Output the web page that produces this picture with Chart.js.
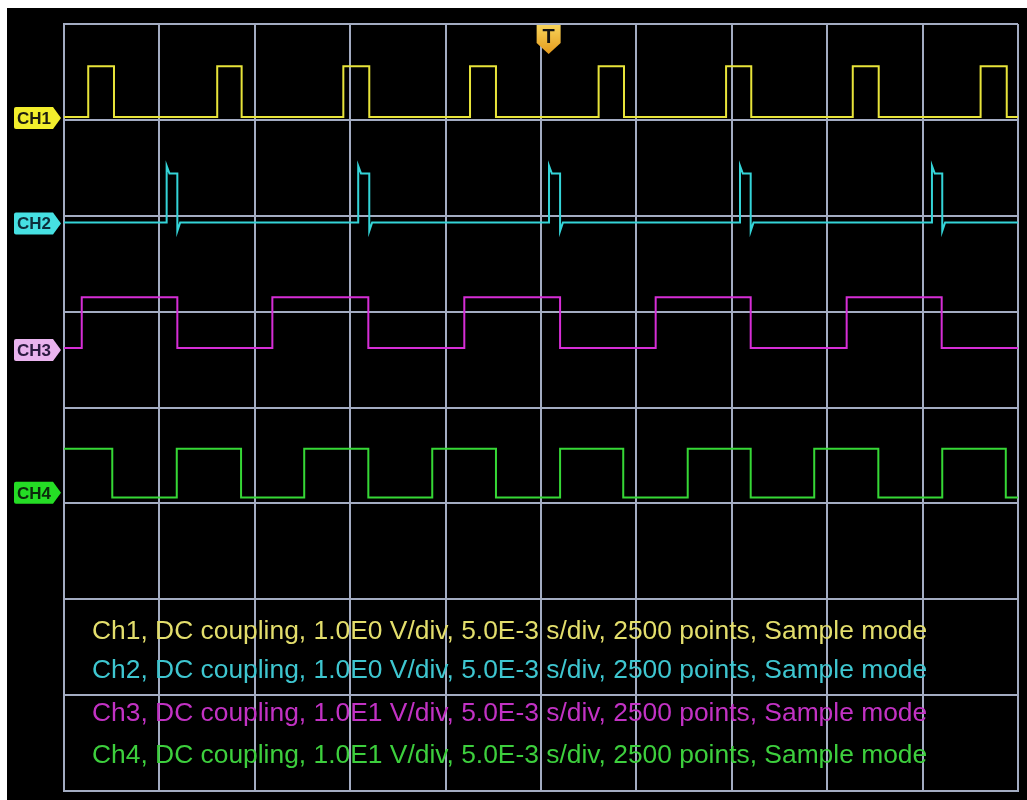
<!doctype html>
<html lang="en">
<head>
  <meta charset="UTF-8" />
  <title>Oscilloscope capture</title>
  <script src="https://cdn.jsdelivr.net/npm/chart.js@4.4.4/dist/chart.umd.min.js"></script>
  <style>
    html, body {
      margin: 0;
      padding: 0;
      background: #fff;
    }
    .screen {
      position: absolute;
      left: 7px;
      top: 8px;
      width: 1020px;
      height: 792px;
      background: #000;
    }
  </style>
</head>
<body>
  <div class="screen"><canvas id="scope"></canvas></div>

  <script>
    // time axis in ms (5 ms/div, 10 div), vertical axis in divisions
    const timeWindowMs = [-25, 25];
    const divWindow = [-4, 4];
    const triggerMs = 0.4;

    const channelNames = ['CH1', 'CH2', 'CH3', 'CH4'];
    const voltsPerDiv = [1, 1, 10, 10];
    const groundDiv = [3.02, 1.92, 0.60, -0.89];

    // CH1: short pulses, starts low; edges alternate rise/fall (ms)
    const ch1Edges = [-23.73, -22.38, -16.97, -15.69, -10.36, -9.00, -3.72, -2.36,
      3.02, 4.35, 9.70, 11.02, 16.34, 17.70, 23.04, 24.41];
    const ch1Levels = [0.01, 0.54];

    // CH2: narrow spikes with overshoot and undershoot
    const ch2Rise = [-19.62, -9.58, 0.42, 10.43, 20.49];
    const ch2Fall = [-19.06, -9.00, 1.00, 10.99, 21.03];
    const ch2Levels = [0.01, 0.60, 0.52, -0.08]; // base, peak, plateau, undershoot
    const ch2SettleMs = 0.15;

    // CH3: square wave, starts low
    const ch3Edges = [-24.07, -19.06, -14.08, -9.05, -4.02, 1.00, 6.01, 10.99, 16.02, 21.00];
    const ch3Levels = [0.2, 5.5];

    // CH4: square wave, starts high
    const ch4Edges = [-22.47, -19.09, -15.72, -12.41, -9.05, -5.70, -2.36, 1.00,
      4.31, 7.69, 10.99, 14.32, 17.68, 21.03, 24.36];
    const ch4Levels = [-0.5, 4.6];

    const traceColors = ['#e8e43a', '#34d4d8', '#d62ed6', '#36d836'];
    const tagColors = ['#f2ee2c', '#46e0e2', '#e9b3ee', '#25dd25'];
    const tagText = ['#1c1c10', '#0d2d3a', '#2a1a40', '#0c2a0c'];
    const infoColors = ['#e3de6c', '#3ec6d0', '#c232c4', '#3dcf3d'];
    const infoLines = [
      'Ch1, DC coupling, 1.0E0 V/div, 5.0E-3 s/div, 2500 points, Sample mode',
      'Ch2, DC coupling, 1.0E0 V/div, 5.0E-3 s/div, 2500 points, Sample mode',
      'Ch3, DC coupling, 1.0E1 V/div, 5.0E-3 s/div, 2500 points, Sample mode',
      'Ch4, DC coupling, 1.0E1 V/div, 5.0E-3 s/div, 2500 points, Sample mode'
    ];

    function toDiv(ch, volts) {
      return groundDiv[ch] + volts / voltsPerDiv[ch];
    }

    function stepTrace(ch, edges, levels, startHigh) {
      let state = startHigh ? 1 : 0;
      const pts = [{ x: timeWindowMs[0], y: toDiv(ch, levels[state]) }];
      edges.forEach((t) => {
        pts.push({ x: t, y: toDiv(ch, levels[state]) });
        state = 1 - state;
        pts.push({ x: t, y: toDiv(ch, levels[state]) });
      });
      pts.push({ x: timeWindowMs[1], y: toDiv(ch, levels[state]) });
      return pts;
    }

    function spikeTrace(ch) {
      const [base, peak, plateau, under] = ch2Levels;
      const pts = [{ x: timeWindowMs[0], y: toDiv(ch, base) }];
      ch2Rise.forEach((r, i) => {
        const f = ch2Fall[i];
        pts.push({ x: r, y: toDiv(ch, base) });
        pts.push({ x: r, y: toDiv(ch, peak) });
        pts.push({ x: r + ch2SettleMs, y: toDiv(ch, plateau) });
        pts.push({ x: f, y: toDiv(ch, plateau) });
        pts.push({ x: f, y: toDiv(ch, under) });
        pts.push({ x: f + ch2SettleMs, y: toDiv(ch, base) });
      });
      pts.push({ x: timeWindowMs[1], y: toDiv(ch, base) });
      return pts;
    }

    const traces = [
      stepTrace(0, ch1Edges, ch1Levels, false),
      spikeTrace(1),
      stepTrace(2, ch3Edges, ch3Levels, false),
      stepTrace(3, ch4Edges, ch4Levels, true)
    ];

    function drawTag(ctx, tipX, yc, color, textColor, label) {
      const w = 47, h = 22, point = 8;
      const x0 = tipX - w;
      ctx.save();
      ctx.beginPath();
      ctx.moveTo(x0 + 2, yc - h / 2);
      ctx.lineTo(tipX - point, yc - h / 2);
      ctx.lineTo(tipX, yc);
      ctx.lineTo(tipX - point, yc + h / 2);
      ctx.lineTo(x0 + 2, yc + h / 2);
      ctx.quadraticCurveTo(x0, yc + h / 2, x0, yc + h / 2 - 2);
      ctx.lineTo(x0, yc - h / 2 + 2);
      ctx.quadraticCurveTo(x0, yc - h / 2, x0 + 2, yc - h / 2);
      ctx.closePath();
      ctx.fillStyle = color;
      ctx.fill();
      ctx.fillStyle = textColor;
      ctx.font = 'bold 17px "Liberation Sans Narrow", "Liberation Sans", Arial, sans-serif';
      ctx.textBaseline = 'middle';
      ctx.textAlign = 'left';
      ctx.fillText(label, x0 + 3, yc + 1);
      ctx.restore();
    }

    const scopeDecor = {
      id: 'scopeDecor',
      afterDatasetsDraw(chart) {
        const { ctx, chartArea } = chart;
        ctx.save();
        ctx.font = '26.4px "Liberation Sans", Arial, sans-serif';
        ctx.textBaseline = 'middle';
        ctx.textAlign = 'left';
        const rows = [624, 663, 706, 748];
        infoLines.forEach((line, i) => {
          ctx.fillStyle = infoColors[i];
          ctx.fillText(line, chartArea.left + 28, rows[i]);
        });
        ctx.restore();
      },
      afterDraw(chart) {
        const { ctx, chartArea, scales } = chart;
        channelNames.forEach((name, i) => {
          const yc = scales.y.getPixelForValue(groundDiv[i]);
          drawTag(ctx, chartArea.left - 3, yc, tagColors[i], tagText[i], name);
        });

        // trigger marker
        const tx = scales.x.getPixelForValue(triggerMs);
        const top = chartArea.top + 1;
        ctx.save();
        const grad = ctx.createLinearGradient(0, top, 0, top + 29);
        grad.addColorStop(0, '#f8d45a');
        grad.addColorStop(1, '#e49a1c');
        ctx.beginPath();
        ctx.moveTo(tx - 12, top);
        ctx.lineTo(tx + 12, top);
        ctx.lineTo(tx + 12, top + 18);
        ctx.lineTo(tx, top + 29);
        ctx.lineTo(tx - 12, top + 18);
        ctx.closePath();
        ctx.fillStyle = grad;
        ctx.fill();
        ctx.fillStyle = '#111';
        ctx.font = 'bold 20px "Liberation Sans", Arial, sans-serif';
        ctx.textAlign = 'center';
        ctx.textBaseline = 'middle';
        ctx.fillText('T', tx, top + 12);
        ctx.restore();
      }
    };

    const gridColor = '#a3acc2';

    new Chart(document.getElementById('scope'), {
      type: 'line',
      data: {
        datasets: traces.map((pts, i) => ({
          label: channelNames[i],
          data: pts,
          borderColor: traceColors[i],
          borderWidth: 2,
          pointRadius: 0,
          tension: 0,
          fill: false
        }))
      },
      options: {
        responsive: true,
        maintainAspectRatio: false,
        animation: false,
        events: [],
        layout: { padding: { left: 57, top: 16, right: 9, bottom: 9 } },
        plugins: {
          legend: { display: false },
          tooltip: { enabled: false }
        },
        scales: {
          x: {
            type: 'linear',
            min: timeWindowMs[0],
            max: timeWindowMs[1],
            ticks: { display: false, stepSize: 5 },
            grid: { color: gridColor, lineWidth: 2, drawTicks: false },
            border: { color: gridColor, width: 2 }
          },
          y: {
            type: 'linear',
            min: divWindow[0],
            max: divWindow[1],
            ticks: { display: false, stepSize: 1 },
            grid: { color: gridColor, lineWidth: 2, drawTicks: false },
            border: { color: gridColor, width: 2 }
          }
        }
      },
      plugins: [scopeDecor]
    });
  </script>
</body>
</html>
